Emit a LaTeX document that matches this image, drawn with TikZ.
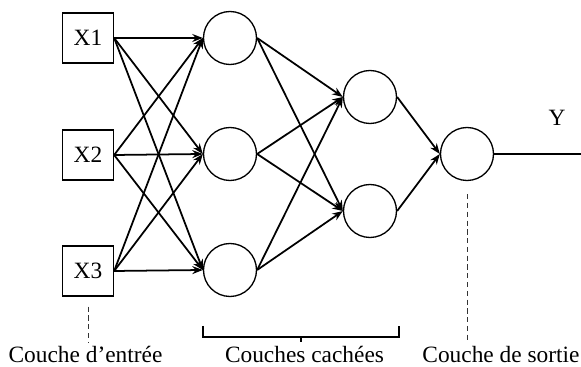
\documentclass[tikz,border=0pt]{standalone}
\usepackage{fontspec}
\setmainfont{Liberation Serif}
\usetikzlibrary{arrows.meta}

\begin{document}
\begin{tikzpicture}[
  font=\fontsize{13.3}{15}\selectfont,
  inbox/.style={draw,line width=0.75pt,minimum width=1.02cm,minimum height=1cm},
  neuron/.style={draw,line width=0.75pt,circle,minimum size=1.06cm,inner sep=0pt},
  lien/.style={line width=1pt,-{Stealth[length=6pt,width=4.5pt]}},
  renvoi/.style={densely dashed,line width=0.5pt,gray!40!black},
  legende/.style={anchor=base,inner sep=2pt}
]
\useasboundingbox (0,0) rectangle (11.62,7.34);

%%% HELP LINES - uncomment to design/extend
% \draw[step=1cm,gray,very thin] (0,0) grid (12,8);

%% Input layer
\node[inbox] (x1) at (1.76,6.58) {X1};
\node[inbox] (x2) at (1.76,4.24) {X2};
\node[inbox] (x3) at (1.76,1.92) {X3};

%% First hidden layer
\node[neuron] (h1) at (4.6,6.58) {};
\node[neuron] (h2) at (4.6,4.26) {};
\node[neuron] (h3) at (4.6,1.94) {};

%% Second hidden layer
\node[neuron] (k1) at (7.4,5.4) {};
\node[neuron] (k2) at (7.4,3.12) {};

%% Output layer
\node[neuron] (out) at (9.34,4.26) {};
\coordinate (fin) at (11.62,4.26);
\node (y) at (11.14,4.98) {Y};

% inputs -> hidden 1
\draw[lien] (x1.east) -- (h1.west);
\draw[lien] (x1.east) -- (h2.west);
\draw[lien] (x1.east) -- (h3.west);
\draw[lien] (x2.east) -- (h1.west);
\draw[lien] (x2.east) -- (h2.west);
\draw[lien] (x2.east) -- (h3.west);
\draw[lien] (x3.east) -- (h1.west);
\draw[lien] (x3.east) -- (h2.west);
\draw[lien] (x3.east) -- (h3.west);

% hidden 1 -> hidden 2
\draw[lien] (h1.east) -- (k1.west);
\draw[lien] (h1.east) -- (k2.west);
\draw[lien] (h2.east) -- (k1.west);
\draw[lien] (h2.east) -- (k2.west);
\draw[lien] (h3.east) -- (k1.west);
\draw[lien] (h3.east) -- (k2.west);

% hidden 2 -> output
\draw[lien] (k1.east) -- (out.west);
\draw[lien] (k2.east) -- (out.west);
\draw[line width=1pt] (out.east) -- (fin);

%% Legends
\node[legende] (lin) at (1.71,0.09) {Couche d'entrée};
\node[legende] (lhid) at (6.09,0.09) {Couches cachées};
\node[legende] (lout) at (10.02,0.09) {Couche de sortie};

\draw[renvoi] ([yshift=-0.2cm]x3.south) -- (x3.south |- lin.north);
\draw[renvoi] ([yshift=-0.26cm]out.south) -- (out.south |- lout.north);

% bracket under the hidden layers
\draw[line width=0.75pt] (4.06,0.82) |- (7.98,0.6) -- (7.98,0.82);
\draw[line width=0.75pt] (6.02,0.6) -- (6.02,0.6 |- lhid.north);
\end{tikzpicture}
\end{document}
